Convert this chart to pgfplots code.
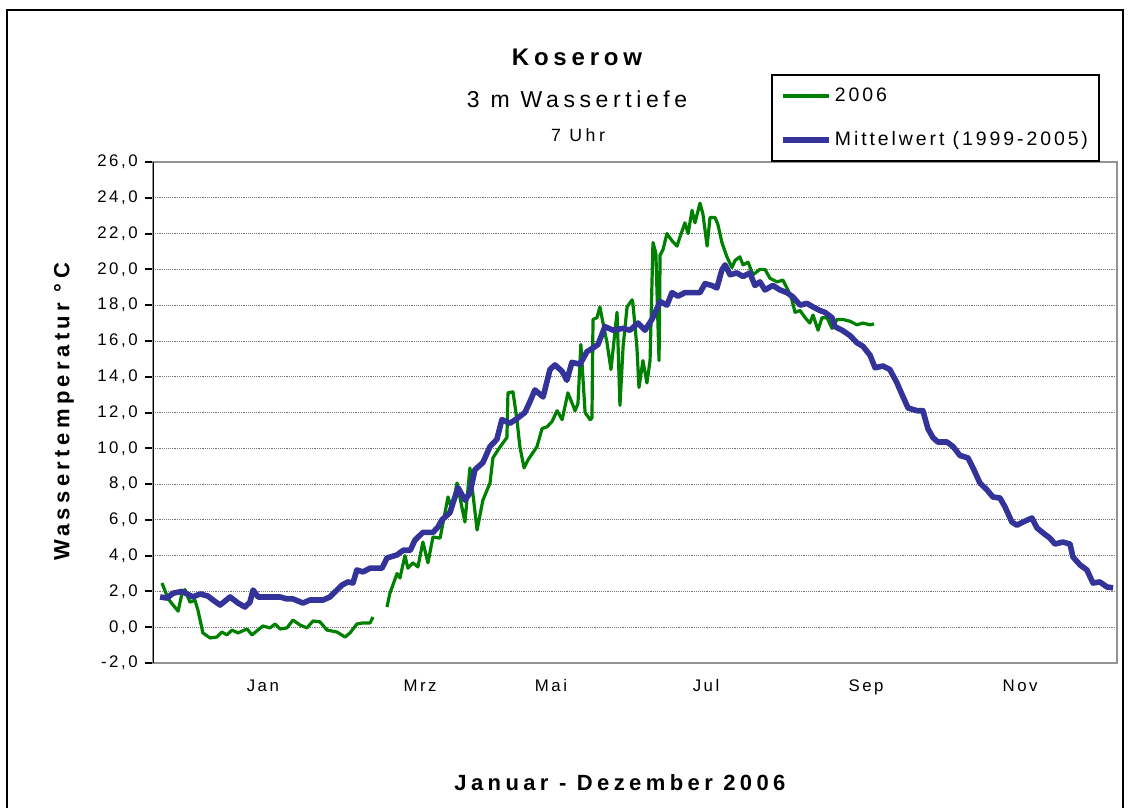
\documentclass[border=0pt]{standalone}
\usepackage{fontspec}
\setmainfont{Liberation Sans}[LetterSpace=20]
\newfontfamily\legfont{Liberation Sans}[LetterSpace=15]
\newfontfamily\tickfont{Liberation Sans}[LetterSpace=15]
\usepackage{pgfplots}
\pgfplotsset{compat=1.18}
\definecolor{gruen}{RGB}{0,128,0}
\definecolor{blau}{RGB}{51,51,153}
\begin{document}
\begin{tikzpicture}[x=0.75pt,y=0.75pt]
\useasboundingbox (0,0) rectangle (1131,807);
\draw[line width=1.5pt] (7,-5) -- (7,797) -- (1123,797) -- (1123,-5);
\node[font=\bfseries\fontsize{18}{20}\selectfont, anchor=base] at (577,741) {Koserow};
\node[font=\fontsize{17.25}{20}\selectfont, anchor=base] at (577,699) {3 m Wassertiefe};
\node[font=\fontsize{13.3}{16}\selectfont, anchor=base] at (578,665) {7 Uhr};
\begin{axis}[
  at={(114.75pt,108pt)}, anchor=south west,
  width=723pt, height=375.75pt, scale only axis,
  xmin=0, xmax=365, ymin=-2, ymax=26,
  ytick={-2,0,...,26},
  xtick={41.6,101.1,150.7,209.4,270.0,328.3},
  xticklabels={Jan,Mrz,Mai,Jul,Sep,Nov},
  xtick style={draw=none},
  ytick pos=left,
  tick align=outside,
  major tick length=6pt,
  ytick style={black, line width=1.5pt},
  ymajorgrids,
  grid style={densely dotted, black!55, line width=0.6pt},
  axis line style={gray!85, line width=1.5pt},
  ticklabel style={font=\tickfont\fontsize{12.6}{14}\selectfont},
  yticklabel style={xshift=-2pt, /pgf/number format/fixed, /pgf/number format/fixed zerofill, /pgf/number format/precision=1, /pgf/number format/use comma, /pgf/number format/assume math mode=true},
  xticklabel style={yshift=-3pt},
  ylabel={Wassertemperatur °C},
  ylabel style={at={(axis description cs:-0.0924,0.501)}, anchor=center, font=\bfseries\fontsize{16.5}{18}\selectfont},
  xlabel={Januar - Dezember 2006},
  xlabel style={at={(axis description cs:0.4844,-0.2395)}, anchor=center, font=\bfseries\fontsize{16.5}{18}\selectfont},
  legend style={at={(axis description cs:0.641,1.176)}, anchor=north west, draw=black, line width=1.5pt,
    font=\legfont\fontsize{14.6}{16}\selectfont, inner xsep=6pt, inner ysep=8pt, row sep=17pt},
  legend cell align=left,
  legend image code/.code={\draw[#1] (0pt,0pt) -- (35pt,0pt);},
  unbounded coords=jump,
]
\addplot[gruen, line width=2.4pt, line join=round] coordinates {
(3.4,2.47)(5.7,1.6)(7.6,1.24)(9.5,0.9)(11.0,1.9)(12.1,2.1)(14.0,1.4)(15.9,1.5)(17.0,0.96)(18.9,-0.32)(21.6,-0.6)(24.2,-0.55)(26.1,-0.27)(28.0,-0.43)(29.9,-0.16)(32.2,-0.32)(35.6,-0.1)(37.5,-0.43)(41.6,0.07)(44.3,-0.04)(46.2,0.18)(48.1,-0.1)(50.7,-0.04)(53.0,0.4)(55.7,0.12)(58.3,-0.04)(60.6,0.35)(63.2,0.3)(65.9,-0.16)(69.7,-0.27)(72.7,-0.55)(74.6,-0.32)(77.2,0.18)(79.5,0.24)(82.2,0.24)(83.3,0.57)
(84,nan)
(88.6,1.13)(89.7,1.9)(92.4,3.0)(93.5,2.75)(95.4,4.0)(96.5,3.3)(98.4,3.6)(100.3,3.37)(102.2,4.76)(104.1,3.6)(106.0,5.04)(108.7,4.98)(111.7,7.28)(113.2,6.55)(115.1,8.06)(118.1,5.88)(120.0,8.9)(122.7,5.43)(124.9,7.1)(127.6,8.06)(128.7,9.46)(130.6,9.9)(132.5,10.3)(134.0,10.6)(134.4,13.1)(136.3,13.15)(137.8,11.6)(138.9,10.1)(140.5,8.9)(142.0,9.35)(145.4,10.1)(147.3,11.1)(149.2,11.2)(151.1,11.5)(153.0,12.1)(154.9,11.6)(157.1,13.1)(159.8,12.1)(160.9,12.5)(162.0,15.8)(163.6,12.0)(165.5,11.6)(166.2,11.7)(166.6,17.2)(168.1,17.3)(169.2,17.9)(170.4,17.0)(171.9,15.9)(173.4,14.4)(175.7,17.6)(176.8,12.4)(178.0,15.7)(179.5,17.9)(181.4,18.3)(181.7,18.1)(183.2,15.7)(184.0,13.4)(185.5,14.9)(187.0,13.65)(188.2,14.9)(189.3,21.5)(190.4,20.9)(191.6,14.9)(192.0,20.8)(193.1,21.1)(194.6,22.0)(196.5,21.6)(198.4,21.3)(199.5,21.8)(201.4,22.6)(202.6,22.0)(204.1,23.3)(205.2,22.6)(207.1,23.7)(208.2,23.1)(209.8,21.3)(210.9,22.9)(212.8,22.9)(213.9,22.5)(215.4,21.5)(217.3,20.7)(219.2,20.1)(220.4,20.5)(222.2,20.7)(223.4,20.25)(225.3,20.4)(227.2,19.7)(229.8,20.0)(231.7,20.0)(233.6,19.5)(236.3,19.3)(238.5,19.4)(240.4,18.85)(241.9,18.3)(243.1,17.6)(245.0,17.7)(246.9,17.3)(248.7,17.0)(249.9,17.45)(251.8,16.6)(253.3,17.3)(255.2,17.3)(257.1,16.7)(259.0,17.2)(261.2,17.2)(263.9,17.1)(266.5,16.9)(268.8,17.0)(271.5,16.9)(273.0,16.95)
};
\addlegendentry{2006}
\addplot[blau, line width=4.2pt, line join=round] coordinates {
(2.7,1.69)(5.3,1.63)(7.6,1.9)(11.0,2.0)(12.9,1.86)(15.1,1.69)(17.8,1.86)(20.8,1.74)(22.7,1.52)(25.4,1.24)(29.2,1.69)(32.2,1.35)(34.8,1.13)(36.7,1.4)(37.9,2.08)(39.8,1.69)(44.3,1.69)(48.1,1.69)(50.7,1.58)(53.0,1.58)(56.8,1.35)(59.4,1.52)(64.4,1.52)(67.0,1.69)(68.9,1.97)(71.6,2.36)(73.8,2.53)(75.7,2.47)(77.2,3.2)(79.5,3.09)(82.2,3.3)(86.7,3.3)(88.6,3.87)(92.4,4.04)(94.7,4.3)(97.4,4.3)(99.2,4.87)(102.2,5.3)(106.0,5.3)(107.9,5.6)(109.4,6.0)(112.4,6.4)(115.5,7.8)(118.1,7.1)(120.0,7.5)(121.9,8.8)(124.9,9.2)(127.6,10.1)(130.2,10.5)(132.1,11.6)(135.2,11.4)(138.2,11.7)(140.8,12.0)(142.7,12.6)(144.6,13.26)(147.7,12.87)(150.3,14.4)(152.2,14.66)(154.9,14.3)(156.7,13.8)(158.6,14.8)(161.7,14.7)(164.3,15.4)(165.5,15.5)(168.5,15.8)(171.1,16.8)(174.2,16.6)(177.9,16.7)(180.6,16.6)(183.6,17.0)(186.3,16.6)(188.9,17.2)(192.0,18.2)(194.6,18.0)(196.5,18.7)(198.8,18.5)(201.4,18.7)(204.5,18.7)(207.1,18.7)(209.0,19.2)(211.6,19.1)(213.5,18.96)(215.4,19.97)(216.6,20.25)(218.5,19.7)(221.1,19.8)(223.4,19.6)(226.0,19.8)(227.9,19.1)(229.8,19.3)(231.7,18.85)(234.7,19.1)(237.4,18.85)(240.0,18.7)(242.3,18.46)(245.0,18.0)(247.6,18.1)(249.9,17.9)(252.5,17.7)(254.4,17.6)(257.1,17.3)(258.2,16.8)(260.9,16.6)(263.9,16.3)(266.5,15.9)(268.8,15.7)(271.5,15.2)(273.4,14.5)(276.4,14.6)(279.0,14.4)(281.7,13.65)(284.0,12.87)(285.9,12.25)(289.3,12.1)(291.5,12.1)(293.4,11.1)(295.3,10.6)(297.2,10.35)(300.6,10.35)(302.9,10.1)(305.5,9.6)(308.6,9.46)(310.5,8.9)(313.1,8.06)(315.8,7.67)(318.0,7.28)(320.7,7.22)(322.6,6.72)(325.2,5.88)(327.1,5.7)(329.4,5.88)(332.8,6.1)(334.7,5.55)(337.0,5.27)(339.6,4.98)(341.5,4.65)(344.5,4.76)(347.2,4.65)(348.3,3.93)(351.0,3.48)(353.6,3.2)(355.9,2.47)(358.5,2.53)(361.2,2.25)(363.5,2.2)
};
\addlegendentry{Mittelwert (1999-2005)}
\draw[black, line width=1.5pt] (rel axis cs:0,0) -- (rel axis cs:0,1);
\end{axis}
\end{tikzpicture}
\end{document}
